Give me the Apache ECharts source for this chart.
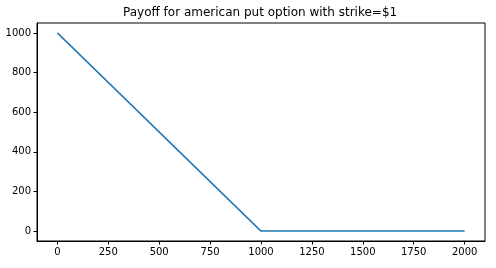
<!DOCTYPE html>
<html><head><meta charset="utf-8">
<script src="https://cdn.jsdelivr.net/npm/echarts@6/dist/echarts.min.js"></script>
<style>html,body{margin:0;padding:0;background:#fff}#c{width:496px;height:268px}</style>
</head><body><div id="c"></div>
<script>
const title = "Payoff for american put option with strike=$1";
const xValues = [0, 1000, 2000];
const payoff = [1000, 0, 0];
const xTicks = [0, 250, 500, 750, 1000, 1250, 1500, 1750, 2000];
const yTicks = [0, 200, 400, 600, 800, 1000];

const chart = echarts.init(document.getElementById('c'), null, {renderer: 'canvas'});
const font = 'DejaVu Sans';
chart.setOption({
  animation: false,
  title: {text: title, left: 118, top: 2,
    textStyle: {fontFamily: font, fontSize: 12, fontWeight: 'normal', color: '#000'}},
  grid: {left: 37, right: 11, top: 23, bottom: 27, show: true, borderColor: '#000', borderWidth: 1, backgroundColor: '#fff'},
  xAxis: {type: 'value', min: -100, max: 2100,
    axisLine: {show: true, onZero: false, lineStyle: {color: '#000', width: 1}},
    axisTick: {show: true, length: 3.5, customValues: xTicks, lineStyle: {color: '#000'}},
    axisLabel: {customValues: xTicks, formatter: v => String(v), fontFamily: font, fontSize: 10, color: '#000', margin: 6},
    splitLine: {show: false}},
  yAxis: {type: 'value', min: -50, max: 1050,
    axisLine: {show: true, onZero: false, lineStyle: {color: '#000', width: 1}},
    axisTick: {show: true, length: 3.5, customValues: yTicks, lineStyle: {color: '#000'}},
    axisLabel: {customValues: yTicks, formatter: v => String(v), fontFamily: font, fontSize: 10, color: '#000', margin: 6},
    splitLine: {show: false}},
  series: [{type: 'line', data: xValues.map((x, i) => [x, payoff[i]]), showSymbol: false,
    lineStyle: {color: '#1f77b4', width: 1.5}}]
});
</script></body></html>
